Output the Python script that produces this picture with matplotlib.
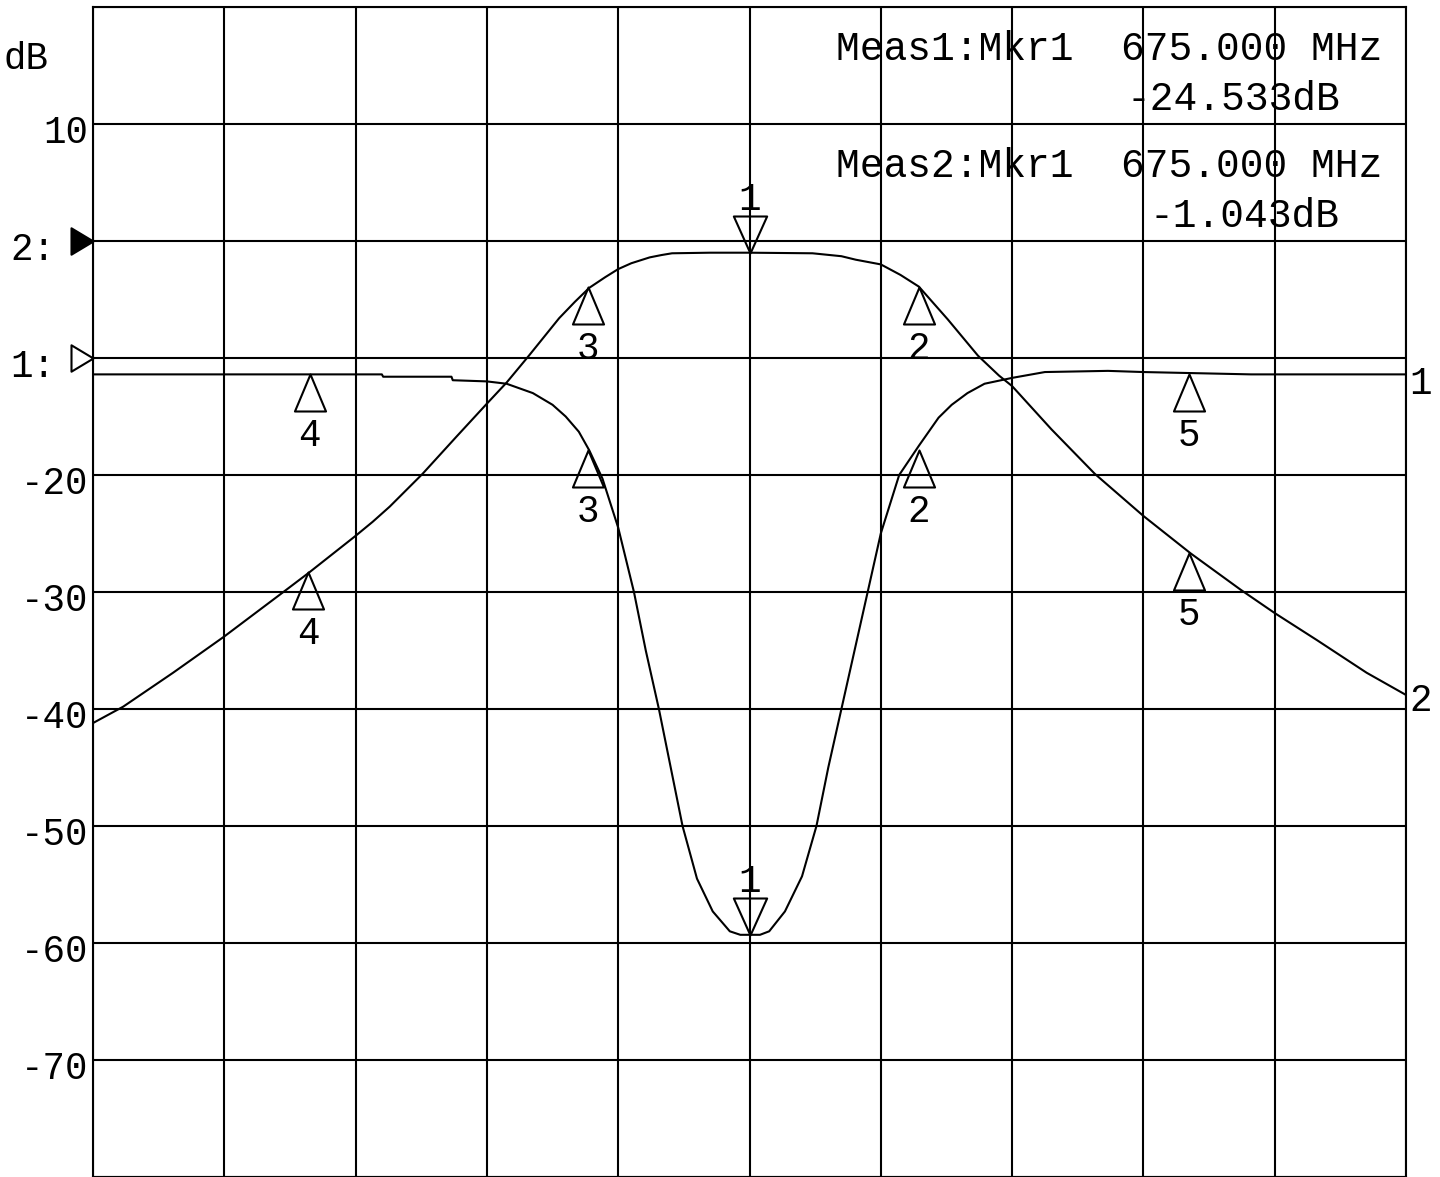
import matplotlib
matplotlib.use("Agg")
import matplotlib.pyplot as plt
from matplotlib.path import Path

plt.rcParams['font.family'] = ['Liberation Mono', 'DejaVu Sans Mono']

# ---- data (x in graticule divisions, centre = 675 MHz) ----
s21_x = [0.00, 0.23, 0.61, 1.00, 1.45, 1.65, 2.00, 2.13, 2.26, 2.51, 2.77, 3.00, 3.15,
         3.32, 3.55, 3.67, 3.78, 3.90, 4.00, 4.10, 4.24, 4.33, 4.41, 4.70, 5.00, 5.48, 5.70, 5.81,
         6.00, 6.15, 6.29, 6.51, 6.74, 6.90, 7.00, 7.30, 7.63, 8.00, 8.36, 8.74,
         9.00, 9.32, 9.70, 10.00]
s21_db = [-41.2, -39.8, -36.9, -33.8, -30.0, -28.3, -25.2, -24.0, -22.7, -19.9, -16.7, -13.9, -12.1,
          -9.8, -6.6, -5.2, -4.0, -3.1, -2.4, -1.9, -1.4, -1.2, -1.05, -1.0, -1.0, -1.05, -1.3, -1.6,
          -2.0, -2.9, -3.9, -6.7, -9.8, -11.5, -12.4, -16.1, -19.9, -23.5, -26.7, -29.8,
          -31.8, -34.1, -36.9, -38.8]

s11_x = [0.00, 2.20, 2.21, 2.73, 2.74, 3.00, 3.15, 3.35, 3.50, 3.60, 3.70, 3.78,
         3.88, 4.00, 4.12, 4.21, 4.31, 4.40, 4.49, 4.60, 4.72, 4.85, 4.93, 5.00,
         5.08, 5.15, 5.27, 5.40, 5.51, 5.60, 5.70, 5.80, 5.90, 6.00, 6.14, 6.29,
         6.44, 6.54, 6.66, 6.79, 7.00, 7.25, 7.73, 8.00, 8.82, 10.00]
s11_db = [-11.4, -11.4, -11.6, -11.6, -11.9, -12.0, -12.2, -13.0, -14.0, -15.0, -16.3, -17.9,
          -20.3, -24.5, -30.0, -35.0, -40.0, -45.0, -50.0, -54.5, -57.3, -59.0, -59.3, -59.3,
          -59.3, -59.0, -57.3, -54.3, -50.0, -45.0, -40.0, -35.0, -30.0, -25.0, -20.0, -17.5,
          -15.1, -14.0, -13.0, -12.2, -11.7, -11.2, -11.1, -11.2, -11.4, -11.4]

mkr_labels = ["1", "2", "3", "4", "5"]
s21_mkr_x = [5.00, 6.29, 3.77, 1.64, 8.35]
s21_mkr_db = [-1.0, -3.9, -3.9, -28.3, -26.7]
s11_mkr_x = [5.00, 6.29, 3.77, 1.65, 8.35]
s11_mkr_db = [-59.3, -17.9, -17.9, -11.4, -11.4]

ytick_vals = [10, 0, -10, -20, -30, -40, -50, -60, -70]
ytick_text = ["10", "2:", "1:", "-20", "-30", "-40", "-50", "-60", "-70"]

readout_lines = ["Meas1:Mkr1  675.000 MHz", "-24.533dB",
                 "Meas2:Mkr1  675.000 MHz", "-1.043dB"]
trace_end_labels = ["1", "2"]

# ---- figure ----
W, H, DPI = 1440, 1177, 100
fig = plt.figure(figsize=(W / DPI, H / DPI), dpi=DPI)
ax = fig.add_axes([93 / W, 0.0, (1406 - 93) / W, (1177 - 7) / H])
ax.set_xlim(0, 10)
ax.set_ylim(-80, 20)
ax.set_xticks(range(0, 11))
ax.set_yticks(range(-80, 21, 10))
ax.grid(True, color='black', lw=1.5)
ax.tick_params(length=0, labelbottom=False, labelleft=False)
for sp in ax.spines.values():
    sp.set_linewidth(1.5)
ax.set_axisbelow(True)

LW = 1.5
ax.plot(s21_x, s21_db, color='black', lw=LW)
ax.plot(s11_x, s11_db, color='black', lw=LW)

PT = 72.0 / DPI  # points per pixel
FS = 27

# marker symbols: apex at data point
up_tri = Path([(0, 0), (-0.42, -1), (0.42, -1), (0, 0)],
              [Path.MOVETO, Path.LINETO, Path.LINETO, Path.CLOSEPOLY])
down_tri = Path([(0, 0), (-0.45, 1), (0.45, 1), (0, 0)],
                [Path.MOVETO, Path.LINETO, Path.LINETO, Path.CLOSEPOLY])
MS = 2 * 37 * PT

for mx_list, my_list in ((s21_mkr_x, s21_mkr_db), (s11_mkr_x, s11_mkr_db)):
    for lab, mx, my in zip(mkr_labels, mx_list, my_list):
        if lab == "1":
            ax.plot([mx], [my], marker=down_tri, ms=MS, mfc='none', mec='black', mew=1.5)
            ax.annotate(lab, xy=(mx, my), xytext=(0, 43 * PT), textcoords='offset points',
                        ha='center', va='baseline', fontsize=FS)
        else:
            ax.plot([mx], [my], marker=up_tri, ms=MS, mfc='none', mec='black', mew=1.5)
            ax.annotate(lab, xy=(mx, my), xytext=(0, -72 * PT), textcoords='offset points',
                        ha='center', va='baseline', fontsize=FS)

# y labels
for v, t in zip(ytick_vals, ytick_text):
    xoff = -38 if t.endswith(":") else -5
    ax.annotate(t, xy=(0, v), xycoords=('axes fraction', 'data'),
                xytext=(xoff * PT, -19 * PT), textcoords='offset points',
                ha='right', va='baseline', fontsize=FS, annotation_clip=False)

# reference-level arrows
right_tri = Path([(0, 0), (-1, 0.6), (-1, -0.6), (0, 0)],
                 [Path.MOVETO, Path.LINETO, Path.LINETO, Path.CLOSEPOLY])
ax.plot([0], [0], marker=right_tri, ms=2 * 22 * PT, mfc='black', mec='black',
        mew=1.5, clip_on=False)
ax.plot([0], [-10], marker=right_tri, ms=2 * 22 * PT, mfc='white', mec='black',
        mew=1.5, clip_on=False)

# trace end labels
for lab, yv, off in zip(trace_end_labels, [s11_db[-1], s21_db[-1]], [-20, -16]):
    ax.annotate(lab, xy=(10, yv), xytext=(3 * PT, off * PT), textcoords='offset points',
                ha='left', va='baseline', fontsize=FS, annotation_clip=False)

# unit label
fig.text(3 / W, 1 - 69 / H, "dB", fontsize=FS, ha='left', va='baseline')

# marker readouts
RFS = 28.5
fig.text(836 / W, 1 - 60 / H, readout_lines[0], fontsize=RFS, ha='left', va='baseline')
fig.text(1340 / W, 1 - 110 / H, readout_lines[1], fontsize=RFS, ha='right', va='baseline')
fig.text(836 / W, 1 - 177 / H, readout_lines[2], fontsize=RFS, ha='left', va='baseline')
fig.text(1340 / W, 1 - 227 / H, readout_lines[3], fontsize=RFS, ha='right', va='baseline')

fig.savefig("out.png", dpi=DPI, facecolor='white')
